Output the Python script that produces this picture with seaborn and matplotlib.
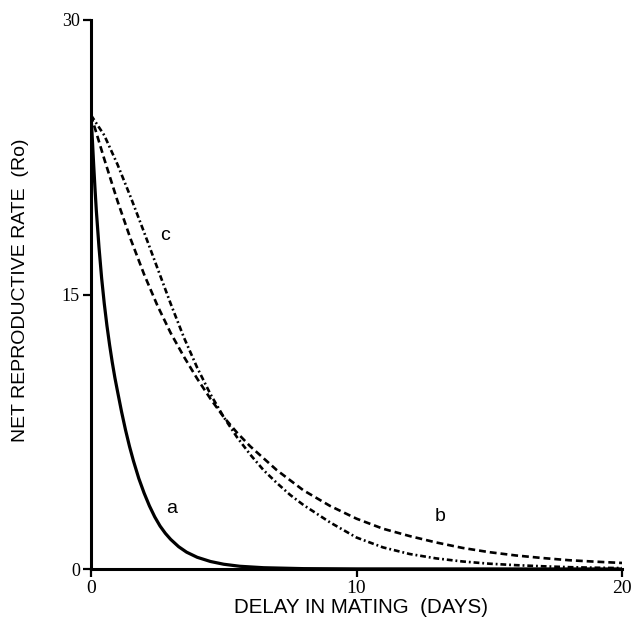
import matplotlib
matplotlib.use("Agg")
import matplotlib.pyplot as plt
import seaborn as sns
import pandas as pd

# ---- data ----
days_a = [0, 0.05, 0.1, 0.15, 0.2, 0.3, 0.4, 0.5, 0.6, 0.7, 0.8, 0.9, 1.0, 1.15,
          1.3, 1.45, 1.6, 1.8, 2.0, 2.2, 2.4, 2.6, 2.8, 3.0, 3.3, 3.6, 4.0, 4.5,
          5.0, 5.6, 6.5, 8.0, 10.0, 20.0]
rate_a = [24.8, 23.5, 22.1, 20.8, 19.6, 17.6, 15.9, 14.5, 13.3, 12.25, 11.3, 10.45,
          9.7, 8.6, 7.6, 6.7, 5.9, 4.95, 4.15, 3.45, 2.85, 2.35, 1.95, 1.62, 1.22,
          0.92, 0.64, 0.41, 0.26, 0.15, 0.07, 0.02, 0.005, 0.0]

days_b = [0, 0.5, 1, 1.5, 2, 2.5, 3, 3.5, 4, 4.5, 5, 5.5, 6, 7, 8, 9, 10, 11, 12,
          13, 14, 15, 16, 17, 18, 19, 20]
rate_b = [24.8, 22.4, 20.1, 18.0, 16.1, 14.4, 12.9, 11.6, 10.4, 9.3, 8.3, 7.45, 6.7,
          5.4, 4.3, 3.45, 2.75, 2.2, 1.8, 1.45, 1.15, 0.92, 0.74, 0.6, 0.48, 0.4, 0.33]

days_c = [0, 0.5, 1, 1.5, 2, 2.5, 3, 3.5, 4, 4.5, 5, 5.5, 6, 6.5, 7, 7.5, 8, 9, 10,
          11, 12, 13, 14, 15, 16, 17, 18, 19, 20]
rate_c = [24.8, 23.7, 22.1, 20.3, 18.4, 16.45, 14.5, 12.65, 11.0, 9.55, 8.3, 7.2,
          6.25, 5.4, 4.7, 4.05, 3.5, 2.55, 1.72, 1.18, 0.82, 0.58, 0.41, 0.29, 0.21,
          0.15, 0.1, 0.07, 0.05]

x_ticks = [0, 10, 20]
y_ticks = [0, 15, 30]
curve_labels = ["a", "b", "c"]
label_pos_x = [3.05, 13.15, 2.8]
label_pos_y = [3.3, 2.85, 18.2]

df_a = pd.DataFrame({"days": days_a, "rate": rate_a})
df_b = pd.DataFrame({"days": days_b, "rate": rate_b})
df_c = pd.DataFrame({"days": days_c, "rate": rate_c})

sns.set_theme(style="white")
plt.rcParams["font.family"] = ["Liberation Sans", "DejaVu Sans"]

fig = plt.figure(figsize=(6.37, 6.36), dpi=100)
ax = fig.add_axes([91 / 637, 1 - 569 / 636, 531 / 637, 549 / 636])

sns.lineplot(data=df_a, x="days", y="rate", ax=ax, color="black", lw=2.3,
             estimator=None, sort=False)
ax.lines[-1].set_solid_joinstyle("round")
sns.lineplot(data=df_b, x="days", y="rate", ax=ax, color="black", lw=1.9,
             estimator=None, sort=False)
ax.lines[-1].set_dashes((2.6, 1.5))
sns.lineplot(data=df_c, x="days", y="rate", ax=ax, color="black", lw=1.9,
             estimator=None, sort=False)
ax.lines[-1].set_dashes((2.2, 1.1, 0.7, 1.1))

for lab, lx, ly in zip(curve_labels, label_pos_x, label_pos_y):
    ax.text(lx, ly, lab, fontsize=14, ha="center", va="center", color="black",
            family=["Liberation Sans", "DejaVu Sans"])

ax.set_xlim(0, 20)
ax.set_ylim(0, 30)
ax.set_xticks(x_ticks)
ax.set_yticks(y_ticks)
ax.set_xticklabels([str(t) for t in x_ticks], family="Liberation Serif", fontsize=14)
ax.set_yticklabels([str(t) for t in y_ticks], family="Liberation Serif", fontsize=13)
ax.tick_params(axis="both", direction="out", length=6, width=1.6, color="black",
               labelcolor="black", pad=2, bottom=True, left=True)

for s in ["top", "right"]:
    ax.spines[s].set_visible(False)
for s in ["left", "bottom"]:
    ax.spines[s].set_linewidth(2.2)
    ax.spines[s].set_color("black")
ax.grid(False)

ax.set_xlabel("DELAY IN MATING  (DAYS)", fontsize=14.8, color="black")
ax.set_ylabel("NET REPRODUCTIVE RATE  (Ro)", fontsize=14, color="black")
ax.xaxis.set_label_coords(0.508, -0.052)
ax.yaxis.set_label_coords(-0.117, 0.508)

fig.savefig("out.png", dpi=100, facecolor="white")
